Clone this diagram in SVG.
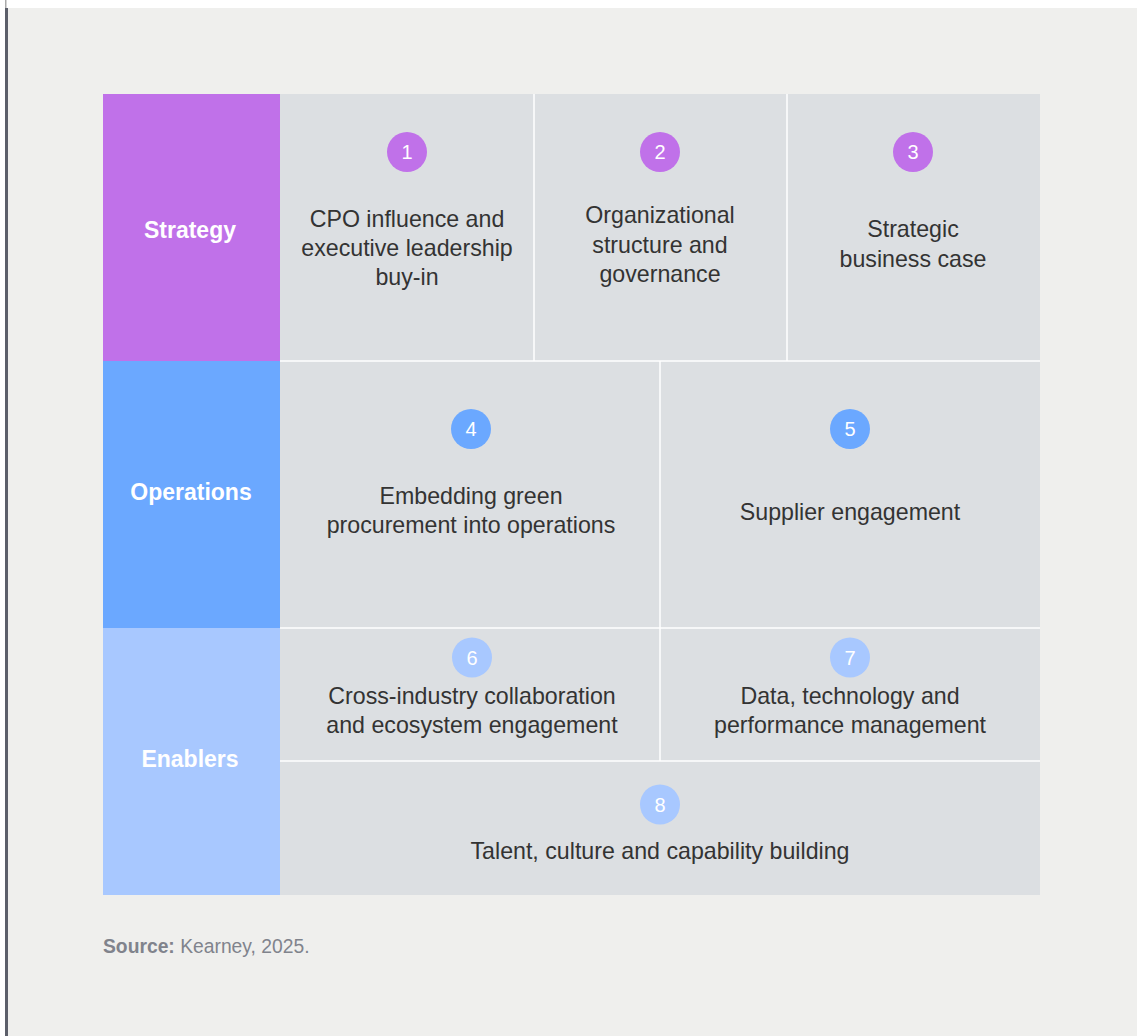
<svg xmlns="http://www.w3.org/2000/svg" width="1141" height="1036" viewBox="0 0 1141 1036">
<style>
.cell{fill:#dcdfe2}
.sep{stroke:#ffffff;stroke-width:1.5;fill:none}
.lab{font-family:"Liberation Sans",Arial,sans-serif;font-size:23px;font-weight:bold;fill:#ffffff;text-anchor:middle}
.txt{font-family:"Liberation Sans",Arial,sans-serif;font-size:23.2px;fill:#333333;text-anchor:middle}
.num{font-family:"Liberation Sans",Arial,sans-serif;font-size:20px;fill:#ffffff;text-anchor:middle}
.c1{fill:#c071e9}
.c2{fill:#6ba8ff}
.c3{fill:#a8c8ff}
.src{font-family:"Liberation Sans",Arial,sans-serif;font-size:19.3px;fill:#80838c}
</style>
<rect x="0" y="0" width="1141" height="1036" fill="#ffffff"/>
<rect x="8" y="8" width="1129" height="1028" fill="#efefed"/>
<rect x="5" y="0" width="1.5" height="8" fill="#aaaaaa"/>
<rect x="5" y="8" width="3" height="1028" fill="#5c5f6a"/>

<g id="grid">
<rect class="cell" x="280" y="94" width="760" height="801"/>
</g>

<g id="strategy"><rect class="c1" x="103" y="94" width="177" height="267"/><text class="lab" x="190" y="238">Strategy</text></g>
<g id="operations"><rect class="c2" x="103" y="361" width="177" height="267"/><text class="lab" x="191" y="500">Operations</text></g>
<g id="enablers"><rect class="c3" x="103" y="628" width="177" height="267"/><text class="lab" x="190" y="767">Enablers</text></g>

<g id="connectors">
<line class="sep" x1="280" y1="361" x2="1040" y2="361"/>
<line class="sep" x1="280" y1="628" x2="1040" y2="628"/>
<line class="sep" x1="280" y1="761" x2="1040" y2="761"/>
<line class="sep" x1="534" y1="94" x2="534" y2="361"/>
<line class="sep" x1="787" y1="94" x2="787" y2="361"/>
<line class="sep" x1="660" y1="361" x2="660" y2="761"/>
</g>

<g id="n1"><circle class="c1" cx="407" cy="152" r="20"/><text class="num" x="407" y="159">1</text>
<text class="txt" x="407" y="227">CPO influence and</text><text class="txt" x="407" y="256">executive leadership</text><text class="txt" x="407" y="285">buy-in</text></g>
<g id="n2"><circle class="c1" cx="660" cy="152" r="20"/><text class="num" x="660" y="159">2</text>
<text class="txt" x="660" y="223">Organizational</text><text class="txt" x="660" y="253">structure and</text><text class="txt" x="660" y="282">governance</text></g>
<g id="n3"><circle class="c1" cx="913" cy="152" r="20"/><text class="num" x="913" y="159">3</text>
<text class="txt" x="913" y="237">Strategic</text><text class="txt" x="913" y="267">business case</text></g>
<g id="n4"><circle class="c2" cx="471" cy="429" r="20"/><text class="num" x="471" y="436">4</text>
<text class="txt" x="471" y="504">Embedding green</text><text class="txt" x="471" y="533">procurement into operations</text></g>
<g id="n5"><circle class="c2" cx="850" cy="429" r="20"/><text class="num" x="850" y="436">5</text>
<text class="txt" x="850" y="520">Supplier engagement</text></g>
<g id="n6"><circle class="c3" cx="472" cy="657.5" r="20"/><text class="num" x="472" y="664.5">6</text>
<text class="txt" x="472" y="704">Cross-industry collaboration</text><text class="txt" x="472" y="733">and ecosystem engagement</text></g>
<g id="n7"><circle class="c3" cx="850" cy="657.5" r="20"/><text class="num" x="850" y="664.5">7</text>
<text class="txt" x="850" y="704">Data, technology and</text><text class="txt" x="850" y="733">performance management</text></g>
<g id="n8"><circle class="c3" cx="660" cy="804.5" r="20"/><text class="num" x="660" y="811.5">8</text>
<text class="txt" x="660" y="859">Talent, culture and capability building</text></g>

<text class="src" x="103" y="953"><tspan font-weight="bold">Source:</tspan> Kearney, 2025.</text>
</svg>
